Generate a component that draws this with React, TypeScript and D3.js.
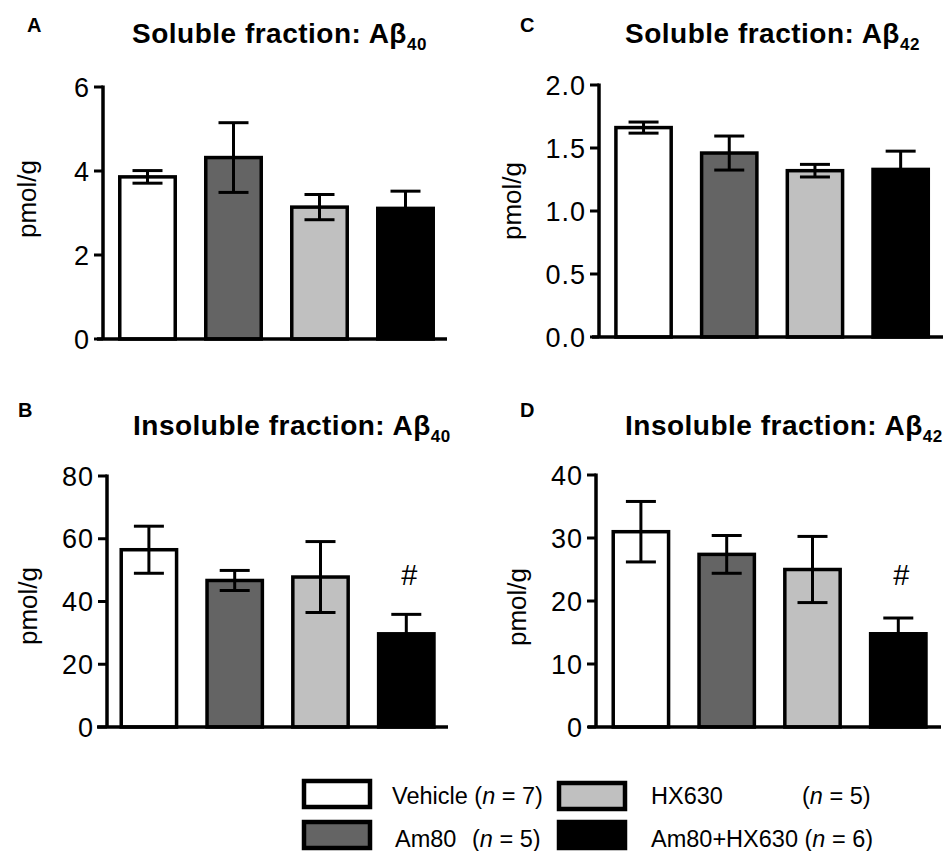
import React from "react";
import * as d3 from "d3";

const groups = ["Vehicle", "Am80", "HX630", "Am80+HX630"];
const groupN = [7, 5, 5, 6];
const groupFill = ["#ffffff", "#646464", "#c0c0c0", "#000000"];

const solubleAb40Mean = [3.86, 4.32, 3.14, 3.11];
const solubleAb40Sem = [0.15, 0.83, 0.3, 0.41];
const solubleAb40Ticks = [0, 2, 4, 6];

const insolubleAb40Mean = [56.5, 46.7, 47.8, 29.7];
const insolubleAb40Sem = [7.5, 3.2, 11.3, 6.2];
const insolubleAb40Ticks = [0, 20, 40, 60, 80];

const solubleAb42Mean = [1.662, 1.46, 1.32, 1.33];
const solubleAb42Sem = [0.044, 0.135, 0.05, 0.145];
const solubleAb42Ticks = [0, 0.5, 1.0, 1.5, 2.0];

const insolubleAb42Mean = [31.0, 27.4, 25.0, 14.8];
const insolubleAb42Sem = [4.8, 3.0, 5.25, 2.5];
const insolubleAb42Ticks = [0, 10, 20, 30, 40];

const insolubleMarks = ["", "", "", "#"];
const solubleMarks = ["", "", "", ""];

const FONT = "'Liberation Sans', Arial, Helvetica, sans-serif";

type PanelProps = {
  letter: string;
  letterX: number;
  letterY: number;
  title: string;
  sub: string;
  titleX: number;
  titleY: number;
  axisX: number;
  y0: number;
  yTop: number;
  xAxisStart: number;
  xAxisEnd: number;
  bandStart: number;
  step: number;
  labelX: number;
  labelY: number;
  means: number[];
  sems: number[];
  ticks: number[];
  fmt: (v: number) => string;
  marks: string[];
};

function Panel(p: PanelProps) {
  const yMax = p.ticks[p.ticks.length - 1];
  const y = d3.scaleLinear().domain([0, yMax]).range([p.y0, p.yTop]);
  const x = d3
    .scaleBand<string>()
    .domain(groups)
    .range([p.bandStart, p.bandStart + p.step * groups.length])
    .paddingInner(0.355)
    .paddingOuter(0.1775);
  const bw = x.bandwidth();
  const capW = 30;
  return (
    <g>
      <text x={p.letterX} y={p.letterY} fontFamily={FONT} fontWeight="bold" fontSize={20}>
        {p.letter}
      </text>
      <text
        x={p.titleX}
        y={p.titleY}
        fontFamily={FONT}
        fontWeight="bold"
        fontSize={28}
        letterSpacing={0.5}
      >
        <tspan>{p.title}</tspan>
        <tspan dy={7} fontSize={17}>
          {p.sub}
        </tspan>
      </text>
      <text
        transform={`translate(${p.labelX},${p.labelY}) rotate(-90)`}
        textAnchor="middle"
        fontFamily={FONT}
        fontSize={26}
      >
        pmol/g
      </text>
      {groups.map((g, i) => {
        const v = p.means[i];
        return (
          <rect
            key={g}
            x={x(g)!}
            y={y(v)}
            width={bw}
            height={p.y0 - y(v)}
            fill={groupFill[i]}
            stroke="#000"
            strokeWidth={3.5}
          />
        );
      })}
      {groups.map((g, i) => {
        const cx = x(g)! + bw / 2;
        const hi = y(p.means[i] + p.sems[i]);
        const lo = y(p.means[i] - p.sems[i]);
        return (
          <g key={g} stroke="#000" strokeWidth={3}>
            <line x1={cx} x2={cx} y1={hi} y2={lo} />
            <line x1={cx - capW / 2} x2={cx + capW / 2} y1={hi} y2={hi} />
            <line x1={cx - capW / 2} x2={cx + capW / 2} y1={lo} y2={lo} />
          </g>
        );
      })}
      {groups.map((g, i) =>
        p.marks[i] ? (
          <text
            key={g}
            x={x(g)! + bw / 2 + 3}
            y={585}
            textAnchor="middle"
            fontFamily={FONT}
            fontSize={29}
          >
            {p.marks[i]}
          </text>
        ) : null
      )}
      <line x1={p.axisX} x2={p.axisX} y1={p.yTop - 1.5} y2={p.y0} stroke="#000" strokeWidth={3.5} />
      <line x1={p.xAxisStart} x2={p.xAxisEnd} y1={p.y0} y2={p.y0} stroke="#000" strokeWidth={3.5} />
      {p.ticks.map((t) => (
        <g key={t}>
          <line x1={p.axisX - 9} x2={p.axisX} y1={y(t)} y2={y(t)} stroke="#000" strokeWidth={3} />
          <text
            x={p.axisX - 13}
            y={y(t)}
            dy="0.36em"
            textAnchor="end"
            fontFamily={FONT}
            fontSize={27}
            letterSpacing={1}
          >
            {p.fmt(t)}
          </text>
        </g>
      ))}
    </g>
  );
}

export default function App() {
  const intFmt = d3.format("d");
  const decFmt = d3.format(".1f");
  const legendBox = [
    { x: 304, y: 781 },
    { x: 304, y: 822 },
    { x: 559, y: 783 },
    { x: 559, y: 822 },
  ];
  const legendTextX = [392, 395, 651, 651];
  // null means the "(n = …)" part follows the name directly
  const legendNX: (number | null)[] = [null, 472, 802, null];
  const legendY = [804, 847, 804, 847];
  return (
    <svg
      width={949}
      height={851}
      style={{ position: "absolute", left: 0, top: 0, background: "#fff" }}
    >
      <rect x={0} y={0} width={949} height={851} fill="#fff" />
      <Panel
        letter="A"
        letterX={27}
        letterY={32}
        title="Soluble fraction: Aβ"
        sub="40"
        titleX={132}
        titleY={43}
        axisX={103}
        y0={339}
        yTop={87}
        xAxisStart={97}
        xAxisEnd={447}
        bandStart={104.5}
        step={86}
        labelX={35.5}
        labelY={199}
        means={solubleAb40Mean}
        sems={solubleAb40Sem}
        ticks={solubleAb40Ticks}
        fmt={intFmt}
        marks={solubleMarks}
      />
      <Panel
        letter="C"
        letterX={520}
        letterY={32}
        title="Soluble fraction: Aβ"
        sub="42"
        titleX={625}
        titleY={43}
        axisX={599}
        y0={337}
        yTop={85}
        xAxisStart={592}
        xAxisEnd={943}
        bandStart={600.7}
        step={85.7}
        labelX={521}
        labelY={201}
        means={solubleAb42Mean}
        sems={solubleAb42Sem}
        ticks={solubleAb42Ticks}
        fmt={decFmt}
        marks={solubleMarks}
      />
      <Panel
        letter="B"
        letterX={18}
        letterY={417}
        title="Insoluble fraction: Aβ"
        sub="40"
        titleX={133}
        titleY={435}
        axisX={107}
        y0={727}
        yTop={476}
        xAxisStart={97}
        xAxisEnd={448}
        bandStart={106}
        step={85.8}
        labelX={37}
        labelY={606}
        means={insolubleAb40Mean}
        sems={insolubleAb40Sem}
        ticks={insolubleAb40Ticks}
        fmt={intFmt}
        marks={insolubleMarks}
      />
      <Panel
        letter="D"
        letterX={520}
        letterY={417}
        title="Insoluble fraction: Aβ"
        sub="42"
        titleX={625}
        titleY={435}
        axisX={596}
        y0={727}
        yTop={475}
        xAxisStart={588}
        xAxisEnd={941}
        bandStart={598}
        step={85.8}
        labelX={526}
        labelY={607}
        means={insolubleAb42Mean}
        sems={insolubleAb42Sem}
        ticks={insolubleAb42Ticks}
        fmt={intFmt}
        marks={insolubleMarks}
      />
      {groups.map((g, i) => (
        <g key={g}>
          <rect
            x={legendBox[i].x}
            y={legendBox[i].y}
            width={66}
            height={26}
            fill={groupFill[i]}
            stroke="#000"
            strokeWidth={4.5}
          />
          {legendNX[i] === null ? (
            <text x={legendTextX[i]} y={legendY[i]} fontFamily={FONT} fontSize={23.5}>
              {g} (<tspan fontStyle="italic">n</tspan> = {groupN[i]})
            </text>
          ) : (
            <>
              <text x={legendTextX[i]} y={legendY[i]} fontFamily={FONT} fontSize={23.5}>
                {g}
              </text>
              <text x={legendNX[i]!} y={legendY[i]} fontFamily={FONT} fontSize={23.5}>
                (<tspan fontStyle="italic">n</tspan> = {groupN[i]})
              </text>
            </>
          )}
        </g>
      ))}
    </svg>
  );
}
